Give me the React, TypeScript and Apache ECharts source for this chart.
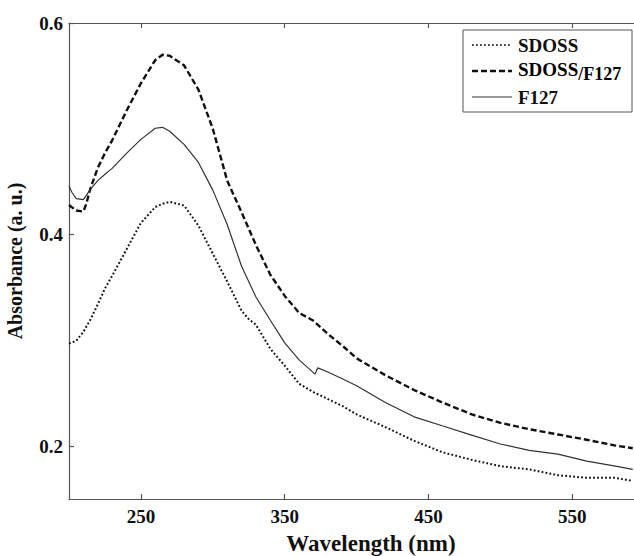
import React, { useEffect, useRef } from "react";
import * as echarts from "echarts";

const xTicks = [250, 350, 450, 550];
const yTicks = [0.2, 0.4, 0.6];

const seriesNames = ["SDOSS", "SDOSS/F127", "F127"];

const sdossWl = [200, 205, 210, 215, 220, 225, 230, 240, 250, 260, 265, 270, 280, 290, 300, 310, 320, 325, 330, 340, 350, 360, 370, 380, 390, 400, 420, 440, 460, 480, 500, 520, 540, 560, 580, 592];
const sdossAbs = [0.297, 0.2995, 0.308, 0.32, 0.334, 0.349, 0.361, 0.386, 0.411, 0.426, 0.429, 0.431, 0.4275, 0.4085, 0.382, 0.3555, 0.328, 0.32, 0.3147, 0.292, 0.276, 0.259, 0.251, 0.2445, 0.238, 0.23, 0.218, 0.205, 0.194, 0.187, 0.181, 0.178, 0.1725, 0.17, 0.17, 0.167];

const mixWl = [200, 205, 210, 212, 215, 220, 225, 230, 240, 250, 260, 265, 270, 280, 290, 300, 310, 320, 330, 340, 350, 360, 370, 380, 390, 400, 420, 440, 460, 480, 500, 520, 540, 560, 580, 592];
const mixAbs = [0.428, 0.4227, 0.4218, 0.429, 0.444, 0.463, 0.477, 0.489, 0.517, 0.543, 0.565, 0.57, 0.569, 0.56, 0.537, 0.5, 0.451, 0.421, 0.39, 0.362, 0.342, 0.326, 0.3185, 0.306, 0.295, 0.283, 0.267, 0.253, 0.241, 0.23, 0.222, 0.216, 0.211, 0.206, 0.2005, 0.198];

const f127Wl = [200, 202, 205, 210, 215, 220, 225, 230, 240, 250, 260, 265, 270, 280, 290, 300, 310, 320, 330, 340, 350, 360, 367, 371, 373, 380, 390, 400, 420, 440, 460, 480, 500, 520, 540, 560, 580, 592];
const f127Abs = [0.446, 0.44, 0.434, 0.433, 0.443, 0.451, 0.457, 0.4626, 0.4768, 0.49, 0.5005, 0.5014, 0.4976, 0.4853, 0.4682, 0.442, 0.4095, 0.37, 0.341, 0.319, 0.2976, 0.2815, 0.273, 0.268, 0.274, 0.27, 0.2637, 0.257, 0.2413, 0.2277, 0.219, 0.2104, 0.202, 0.196, 0.1924, 0.1858, 0.181, 0.178];

const FONT = "Liberation Serif";
const AXIS_COLOR = "#555";
const TEXT_COLOR = "#111";

const lineStyles = [
  { color: "#111", width: 2, type: [1.8, 2.2] as number[] },
  { color: "#111", width: 2.4, type: [6, 3] as number[] },
  { color: "#333", width: 1.2, type: "solid" },
];

function pairs(xs: number[], ys: number[]) {
  return xs.map((x, i) => [x, ys[i]]);
}

export default function App() {
  const ref = useRef<HTMLDivElement>(null);

  useEffect(() => {
    const chart = echarts.init(ref.current!, null, { renderer: "svg" });
    const axisLine = { show: true, lineStyle: { color: AXIS_COLOR, width: 1.2 } };
    const tick = (vals: number[]) => ({
      show: true,
      inside: true,
      length: 5,
      customValues: vals,
      lineStyle: { color: AXIS_COLOR, width: 1.2 },
    });
    const labelStyle = {
      fontFamily: FONT,
      fontWeight: "bold" as const,
      fontSize: 19,
      color: TEXT_COLOR,
    };
    const titleStyle = {
      fontFamily: FONT,
      fontWeight: "bold" as const,
      color: TEXT_COLOR,
    };

    // legend drawn as graphic so the icons are plain line samples
    const lgX = 463;
    const lgY = 30;
    const rowY = [45, 71, 97];
    const legendGraphic: any[] = [
      {
        type: "rect",
        shape: { x: lgX, y: lgY, width: 169, height: 82 },
        style: { fill: "#fff", stroke: AXIS_COLOR, lineWidth: 1 },
        z: 10,
      },
    ];
    seriesNames.forEach((name, i) => {
      const ls = lineStyles[i];
      legendGraphic.push({
        type: "line",
        shape: { x1: 472, y1: rowY[i], x2: 512, y2: rowY[i] },
        style: {
          stroke: ls.color,
          lineWidth: i === 0 ? 1.6 : ls.width,
          lineDash: Array.isArray(ls.type) ? ls.type : null,
        },
        z: 11,
      });
      if (name === "SDOSS/F127") {
        legendGraphic.push({
          type: "text",
          x: 518,
          y: rowY[i] + 3,
          style: {
            text: "{a|SDOSS}{b|/F127}",
            verticalAlign: "middle",
            rich: {
              a: { ...titleStyle, fontSize: 19, lineHeight: 22, verticalAlign: "top" },
              b: { ...titleStyle, fontSize: 18, lineHeight: 28 },
            },
          },
          z: 11,
        });
      } else {
        legendGraphic.push({
          type: "text",
          x: 518,
          y: rowY[i],
          style: {
            text: name,
            ...titleStyle,
            fontSize: 19,
            fill: TEXT_COLOR,
            verticalAlign: "middle",
          },
          z: 11,
        });
      }
    });

    chart.setOption({
      animation: false,
      backgroundColor: "#fff",
      grid: {
        left: 69,
        top: 23,
        right: -39,
        bottom: 57,
        containLabel: false,
        outerBoundsMode: "none",
      },
      xAxis: [
        {
          type: "value",
          position: "bottom",
          min: 200,
          max: 620,
          axisLine,
          axisTick: tick(xTicks),
          axisLabel: { ...labelStyle, customValues: xTicks, margin: 8 },
          splitLine: { show: false },
          name: "Wavelength (nm)",
          nameLocation: "middle",
          nameGap: 33,
          nameTextStyle: { ...titleStyle, fontSize: 23 },
        },
        {
          type: "value",
          position: "top",
          min: 200,
          max: 620,
          axisLine,
          axisTick: tick(xTicks),
          axisLabel: { show: false },
          splitLine: { show: false },
        },
      ],
      yAxis: {
        type: "value",
        min: 0.15,
        max: 0.6,
        axisLine,
        axisTick: tick(yTicks),
        axisLabel: {
          ...labelStyle,
          customValues: yTicks,
          margin: 6,
          formatter: (v: number) => v.toFixed(1),
        },
        splitLine: { show: false },
        name: "Absorbance (a. u.)",
        nameLocation: "middle",
        nameRotate: 90,
        nameGap: 44,
        nameTextStyle: { ...titleStyle, fontSize: 20 },
      },
      graphic: legendGraphic,
      series: [
        { name: seriesNames[0], data: pairs(sdossWl, sdossAbs) },
        { name: seriesNames[1], data: pairs(mixWl, mixAbs) },
        { name: seriesNames[2], data: pairs(f127Wl, f127Abs) },
      ].map((s, i) => ({
        ...s,
        type: "line",
        symbol: "none",
        lineStyle: lineStyles[i],
        itemStyle: { color: lineStyles[i].color },
      })),
    });
    return () => chart.dispose();
  }, []);

  return (
    <div
      ref={ref}
      style={{ position: "fixed", left: 0, top: 0, width: 634, height: 556, background: "#fff" }}
    />
  );
}
